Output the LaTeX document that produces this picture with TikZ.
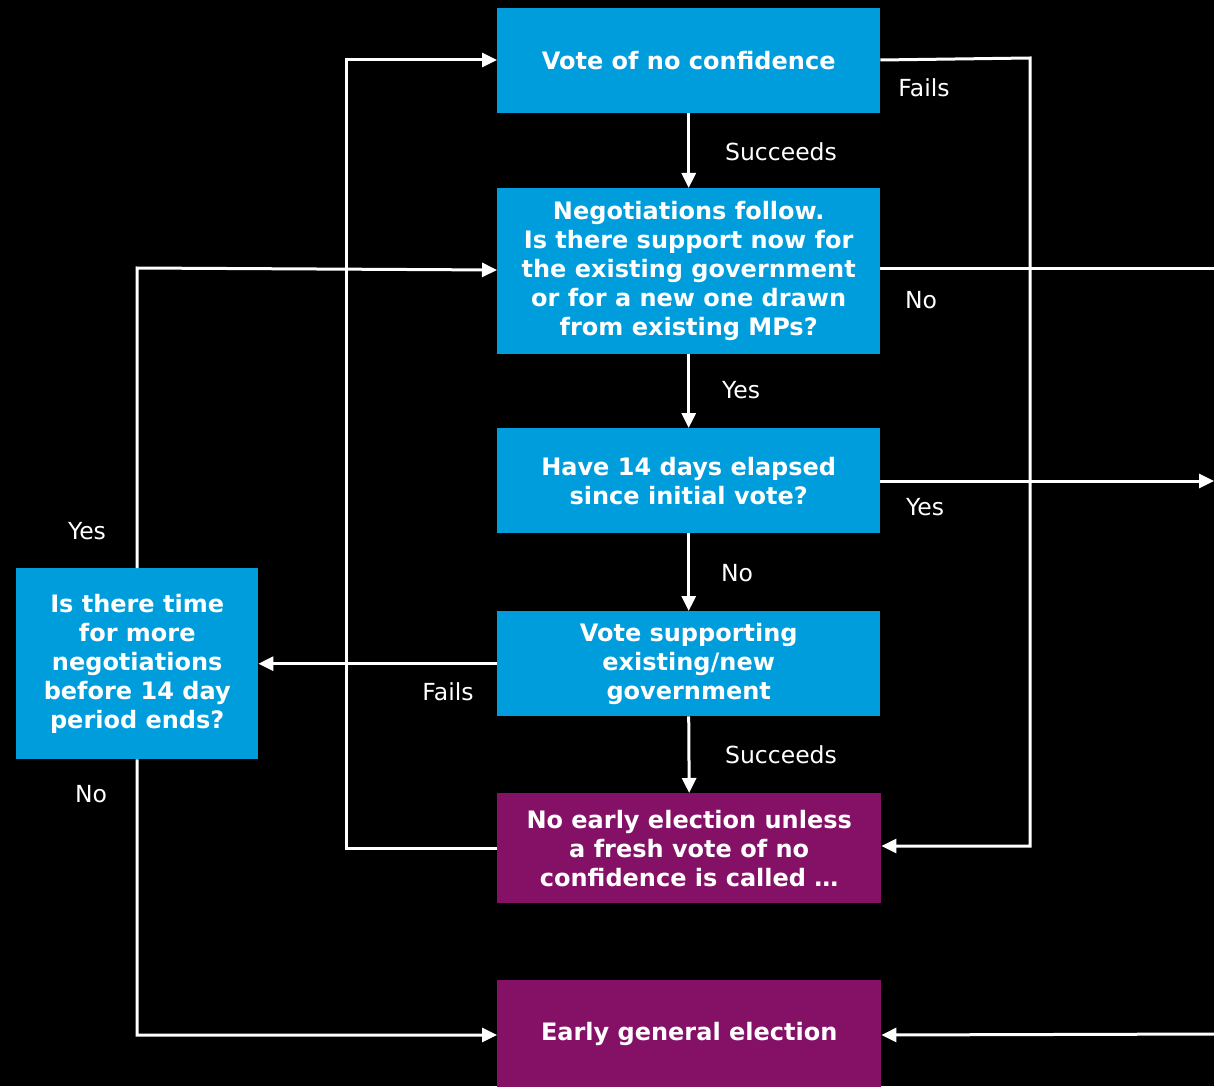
\documentclass[tikz,border=0pt]{standalone}
\usepackage{fontspec}
\setmainfont{DejaVu Sans}
\usetikzlibrary{arrows.meta}
\definecolor{boxblue}{RGB}{0,157,220}
\definecolor{boxpurple}{RGB}{133,17,103}
\tikzset{
  box/.style={fill=boxblue, text=white, font=\bfseries\fontsize{24}{29}\selectfont,
    align=center, inner sep=0pt, anchor=north west},
  endbox/.style={box, fill=boxpurple},
  link/.style={draw=white, line width=3pt, -{Triangle[length=15pt,width=14pt]}},
  plain/.style={draw=white, line width=3pt},
  lbl/.style={text=white, font=\fontsize{23.5}{27}\selectfont, inner sep=0pt}
}
\begin{document}
\begin{tikzpicture}[x=1pt,y=-1pt]
  \useasboundingbox (0,0) rectangle (1214,1086);
  \clip (0,0) rectangle (1214,1086);
  \fill[black] (0,0) rectangle (1214,1086);

  % boxes
  \node[box, minimum width=383pt, minimum height=105pt] (vonc) at (497,8) {Vote of no confidence};
  \node[box, minimum width=383pt, minimum height=166pt] (neg) at (497,188)
    {Negotiations follow.\\Is there support now for\\the existing government\\or for a new one drawn\\from existing MPs?};
  \node[box, minimum width=383pt, minimum height=105pt] (days) at (497,428) {Have 14 days elapsed\\since initial vote?};
  \node[box, minimum width=383pt, minimum height=105pt] (vsup) at (497,611) {Vote supporting\\existing/new\\government};
  \node[endbox, minimum width=384pt, minimum height=110pt] (noel) at (497,793)
    {No early election unless\\a fresh vote of no\\confidence is called \dots};
  \node[endbox, minimum width=384pt, minimum height=108pt] (early) at (497,980) {Early general election};
  \node[box, minimum width=242pt, minimum height=191pt] (time) at (16,568)
    {Is there time\\for more\\negotiations\\before 14 day\\period ends?};

  % off-page ends on the right
  \coordinate (rneg) at (1216,268);
  \coordinate (rdays) at (1214,481);
  \coordinate (rearly) at (1216,1034);

  % main chain
  \draw[link] (vonc.south) -- (neg.north);
  \draw[link] (neg.south) -- (days.north);
  \draw[link] (days.south) -- (vsup.north);
  \draw[link] (vsup.south) -- (noel.north);

  \node[lbl] (l1) at (781,152) {Succeeds};
  \node[lbl] (l2) at (741,390) {Yes};
  \node[lbl] (l3) at (737,573) {No};
  \node[lbl] (l4) at (781,755) {Succeeds};

  % failing vote goes back to the time question
  \draw[link] (vsup.west) -- (time.east);
  \node[lbl] (l5) at (448,692) {Fails};

  % failed no-confidence vote
  \draw[link] (vonc.east |- 0,60) -- (1030,58) -- (1030,846) -- (noel.east |- 0,846);
  \node[lbl] (l6) at (924,88) {Fails};

  % no support
  \draw[plain] (neg.east |- rneg) -- (rneg);
  \node[lbl] (l7) at (921,300) {No};

  % 14 days elapsed
  \draw[link] (days.east |- rdays) -- (rdays);
  \node[lbl] (l8) at (925,507) {Yes};

  % to early election from the right
  \draw[link] (rearly) -- (early.east |- 0,1035);

  % more time: back to negotiations
  \draw[link] (time.north) -- (137,268) -- (neg.west |- 0,270);
  \node[lbl] (l9) at (87,531) {Yes};

  % no more time: early election
  \draw[link] (time.south) -- (137,1035) -- (early.west |- 0,1035);
  \node[lbl] (l10) at (91,794) {No};

  % fresh vote loop
  \draw[link] (noel.west |- 0,848) -- (346,848) -- (346,60) -- (vonc.west |- 0,60);
\end{tikzpicture}
\end{document}
